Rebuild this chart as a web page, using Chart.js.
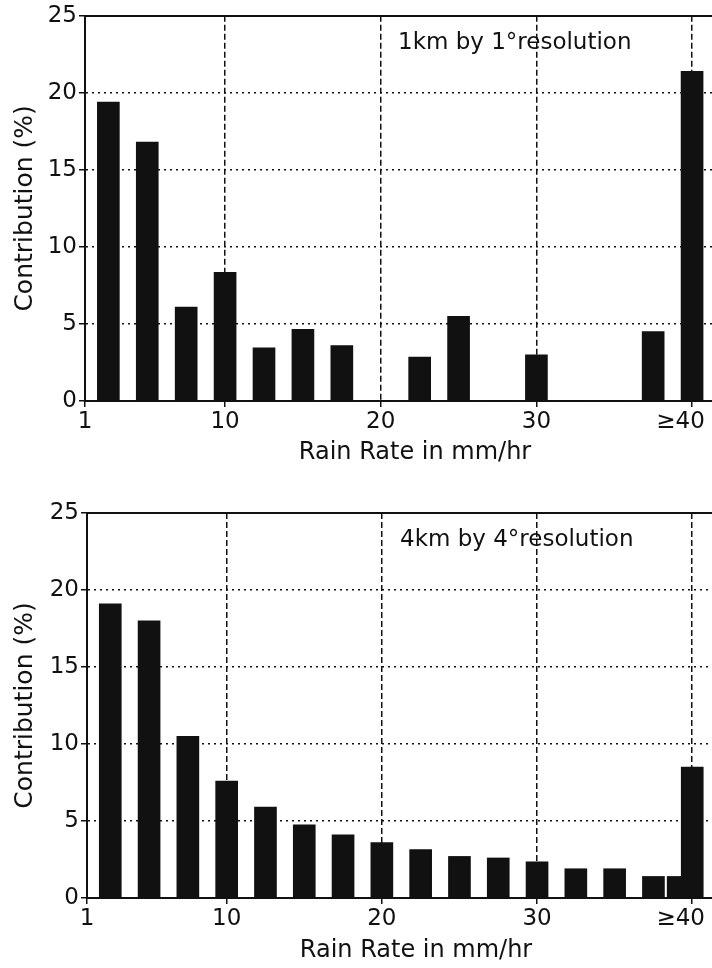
<!DOCTYPE html>
<html>
<head>
<meta charset="utf-8">
<script src="https://cdn.jsdelivr.net/npm/chart.js@4.4.1/dist/chart.umd.min.js"></script>
<style>
  html, body { margin: 0; padding: 0; background: #fff; overflow: hidden; }
  canvas { display: block; position: absolute; left: 0; }
  #chartTop { top: 0; }
  #chartBottom { top: 490px; }
</style>
</head>
<body>
<canvas id="chartTop" width="745" height="470"></canvas>
<canvas id="chartBottom" width="745" height="478"></canvas>
<script>
// rain rate bins (mm/hr), last bin is >= 40
const rainRate = [2.5, 5, 7.5, 10, 12.5, 15, 17.5, 20, 22.5, 25, 27.5, 30, 32.5, 35, 37.5, 40];
const contrib1km = [19.4, 16.8, 6.1, 8.35, 3.45, 4.65, 3.6, 0, 2.85, 5.5, 0, 3.0, 0, 0, 4.5, 21.4];
const contrib4km = [19.1, 18.0, 10.5, 7.6, 5.9, 4.75, 4.1, 3.6, 3.15, 2.7, 2.6, 2.35, 1.9, 1.9, 1.4, 8.5];
// narrow extra bar next to the >=40 bar in the 4 km panel
const extraRate4km = [38.9];
const extraContrib4km = [1.4];

const xTicks = [1, 10, 20, 30, 40];
// em space after the last label pulls it left of its tick, as in the original
const xTickLabels = ['1', '10', '20', '30', '≥40\u2003'];
const yMax = 25;
const yStep = 5;

const FONT = 'DejaVu Sans';
const INK = '#111';

const labelPlugin = {
  id: 'panelLabel',
  afterDraw(chart, args, opts) {
    const { ctx, chartArea } = chart;
    ctx.save();
    ctx.font = '23px ' + FONT;
    ctx.fillStyle = INK;
    ctx.textAlign = 'left';
    ctx.textBaseline = 'middle';
    ctx.fillText(opts.text, chartArea.left + 313, chartArea.top + 27);
    ctx.restore();
  }
};

function makeChart(id, values, extra, label, padTop, leftWidth, axisHeight) {
  const datasets = [{
    data: rainRate.map((r, i) => ({ x: r, y: values[i] })),
    backgroundColor: INK,
    borderWidth: 0,
    barThickness: 22,
    grouped: false
  }];
  if (extra) {
    datasets.unshift({
      data: extra.x.map((r, i) => ({ x: r, y: extra.y[i] })),
      backgroundColor: INK,
      borderWidth: 0,
      barThickness: 16,
      grouped: false
    });
  }

  return new Chart(document.getElementById(id), {
    type: 'bar',
    data: { datasets },
    options: {
      responsive: false,
      animation: false,
      layout: { padding: { top: padTop, left: 0, right: 0, bottom: 0 } },
      plugins: {
        legend: { display: false },
        tooltip: { enabled: false },
        panelLabel: { text: label }
      },
      scales: {
        x: {
          type: 'linear',
          min: 1,
          max: 43.4,
          offset: false,
          afterBuildTicks: s => { s.ticks = xTicks.map(v => ({ value: v })); },
          afterFit: s => { s.height = axisHeight; },
          ticks: {
            color: INK,
            font: { family: FONT, size: 23 },
            padding: 1,
            maxRotation: 0,
            callback: v => xTickLabels[xTicks.indexOf(v)]
          },
          grid: {
            offset: false,
            color: c => (c.tick && c.tick.value === 1) ? 'rgba(0,0,0,0)' : INK,
            lineWidth: 1.5,
            tickColor: INK,
            tickLength: 6,
            tickBorderDash: []
          },
          border: { display: true, color: INK, width: 2, dash: [6, 3] },
          title: {
            display: true,
            text: 'Rain Rate in mm/hr',
            color: INK,
            font: { family: FONT, size: 24 },
            padding: { top: 0, bottom: 3 }
          }
        },
        xTop: {
          type: 'linear',
          position: 'top',
          min: 0,
          max: 1,
          afterFit: s => { s.height = 0; },
          ticks: { display: false },
          grid: { display: false },
          border: { display: true, color: INK, width: 2 }
        },
        y: {
          min: 0,
          max: yMax,
          afterFit: s => { s.width = leftWidth; },
          ticks: {
            stepSize: yStep,
            color: INK,
            font: { family: FONT, size: 23 },
            padding: 2
          },
          grid: {
            color: INK,
            lineWidth: 1.5,
            tickColor: INK,
            tickLength: 6,
            tickBorderDash: []
          },
          border: { display: true, color: INK, width: 2, dash: [2, 4] },
          title: {
            display: true,
            text: 'Contribution (%)',
            color: INK,
            font: { family: FONT, size: 25 },
            padding: { top: 10, bottom: 0 }
          }
        }
      }
    },
    plugins: [labelPlugin]
  });
}

Chart.register(labelPlugin);

makeChart('chartTop', contrib1km, null, '1km by 1°resolution', 15, 85, 69);
makeChart('chartBottom', contrib4km, { x: extraRate4km, y: extraContrib4km },
  '4km by 4°resolution', 23, 87, 70);
</script>
</body>
</html>
